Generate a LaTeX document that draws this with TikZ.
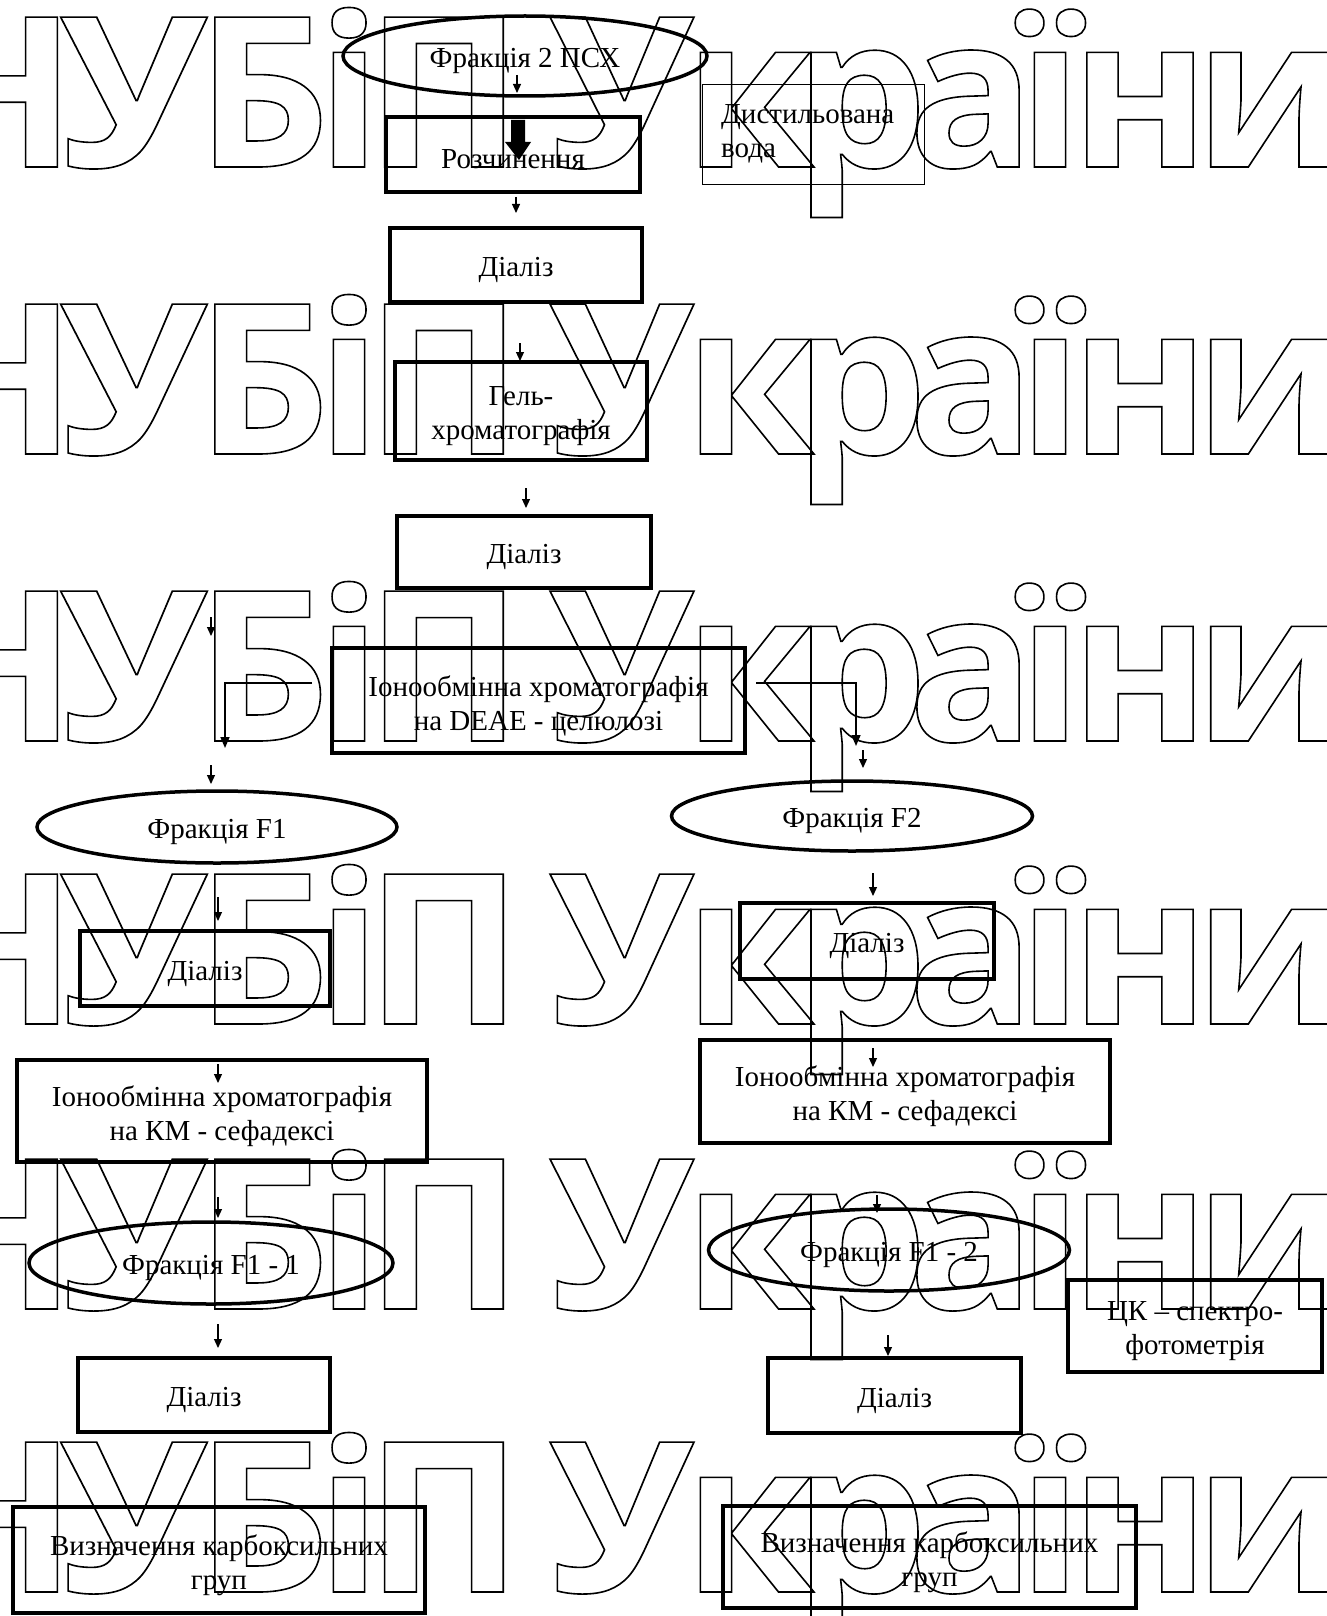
\documentclass[tikz,border=0pt]{standalone}
\usepackage{fontspec}
\setmainfont{Liberation Serif}
\newfontfamily\wmfont{Open Sans}
\usetikzlibrary{shapes.geometric,arrows.meta}
\newcommand\wmo[1]{\special{pdf:literal direct 1 Tr 1.6 w 0 G}#1\special{pdf:literal direct 0 Tr}}
% box/ellipse with its text: name, position, width, height, style, text
\newcommand\bx[6]{\node[#5,minimum width=#3pt,minimum height=#4pt] (#1) at (#2) {};
  \node[txt] (#1t) at ([yshift=-5pt]#1.center) {#6};}
\begin{document}
\begin{tikzpicture}[x=1pt,y=-1pt,
  wm/.style={anchor=base,inner sep=0pt,font=\wmfont\bfseries\fontsize{210}{210}\selectfont},
  txt/.style={font=\fontsize{29}{34}\selectfont,align=center,inner sep=0pt},
  box/.style={draw,line width=3.5pt,inner sep=0pt},
  thinbox/.style={draw,line width=1pt,inner sep=0pt},
  ell/.style={draw,ellipse,line width=3.5pt,inner sep=0pt},
  arr/.style={line width=1.2pt,-{Triangle[length=9pt,width=8pt]}},
  conn/.style={line width=1.6pt,-{Triangle[length=11pt,width=9pt]}}]
\useasboundingbox (0,0) rectangle (1326,1616);
% watermark "НУБіП України", one glyph per node
\foreach \ch/\cx/\sx [count=\i] in {Н/-4/1,У/134/1.07,Б/263/1,і/349/1,П/444/1,У/622/1.05,к/749/1,р/861/1,а/971.5/1,ї/1050/1,н/1140/1,и/1270/1}
  \foreach \by [count=\r] in {167,454,741,1024,1309,1592}
    \node[wm,xscale=\sx] (wm\r x\i) at (\cx,\by) {\wmo{\ch}};
% nodes
\bx{e1}{525,56}{364}{80}{ell}{Фракція 2 ПСХ}
\bx{b1}{513,154.5}{254}{75}{box}{Розчинення}
\node[thinbox,minimum width=222pt,minimum height=100pt] (dw) at (813,135) {};
\node[txt,align=left,anchor=west] (dwt) at ([yshift=-2pt]721,132) {Дистильована\\вода};
\bx{b2}{516,265}{252}{74}{box}{Діаліз}
\bx{b3}{521,411}{252}{98}{box}{Гель-\\хроматографія}
\bx{b4}{524,552}{254}{72}{box}{Діаліз}
\bx{b5}{538.5,700.5}{413}{105}{box}{Іонообмінна хроматографія\\на DEAE - целюлозі}
\bx{e2}{217,827}{360}{72}{ell}{Фракція F1}
\bx{e3}{852,816}{361}{70}{ell}{Фракція F2}
\bx{b6}{205,968.5}{250}{75}{box}{Діаліз}
\bx{b7}{867,941}{254}{76}{box}{Діаліз}
\bx{b8}{222,1111}{410}{102}{box}{Іонообмінна хроматографія\\на КМ - сефадексі}
\bx{b9}{905,1091.5}{410}{103}{box}{Іонообмінна хроматографія\\на КМ - сефадексі}
\bx{e4}{211,1263}{364}{82}{ell}{Фракція F1 - 1}
\bx{e5}{889,1250}{361}{82}{ell}{Фракція F1 - 2}
\bx{b10}{1195,1326}{254}{92}{box}{ЦК – спектро-\\фотометрія}
\bx{b11}{204,1395}{252}{74}{box}{Діаліз}
\bx{b12}{894.5,1395.5}{253}{75}{box}{Діаліз}
\bx{b13}{219,1560}{412}{106}{box}{Визначення карбоксильних\\груп}
\bx{b14}{929.5,1557}{413}{102}{box}{Визначення карбоксильних\\груп}
% arrow end points
\coordinate (a1s) at (517,75);   \coordinate (a1e) at (517,93);
\coordinate (a2s) at (516,197);  \coordinate (a2e) at (516,213);
\coordinate (a3s) at (520,343);  \coordinate (a3e) at (520,361);
\coordinate (a4s) at (526,488);  \coordinate (a4e) at (526,508);
\coordinate (a5s) at (211,617);  \coordinate (a5e) at (211,636);
\coordinate (a6s) at (211,765);  \coordinate (a6e) at (211,784);
\coordinate (a7s) at (863,750);  \coordinate (a7e) at (863,768);
\coordinate (a8s) at (218,897);  \coordinate (a8e) at (218,921);
\coordinate (a9s) at (873,873);  \coordinate (a9e) at (873,896);
\coordinate (a10s) at (218,1064); \coordinate (a10e) at (218,1083);
\coordinate (a11s) at (873,1048); \coordinate (a11e) at (873,1067);
\coordinate (a12s) at (218,1197); \coordinate (a12e) at (218,1218);
\coordinate (a13s) at (877,1195); \coordinate (a13e) at (877,1213);
\coordinate (a14s) at (218,1324); \coordinate (a14e) at (218,1348);
\coordinate (a15s) at (888,1335); \coordinate (a15e) at (888,1356);
\coordinate (lcs) at (312,683); \coordinate (lcm) at (225,683); \coordinate (lce) at (225,748);
\coordinate (rcs) at (756,683); \coordinate (rcm) at (856,683); \coordinate (rce) at (856,746);
\foreach \i in {1,...,15} {\draw[arr] (a\i s) -- (a\i e);}
\draw[conn] (lcs) -- (lcm) -- (lce);
\draw[conn] (rcs) -- (rcm) -- (rce);
% big arrow
\coordinate (ba) at (518,120);
\fill (ba) ++(-7,0) -- ++(14,0) -- ++(0,22) -- ++(6,0) -- (519,160) -- (505,142) -- (511,142) -- cycle;
\end{tikzpicture}
\end{document}
